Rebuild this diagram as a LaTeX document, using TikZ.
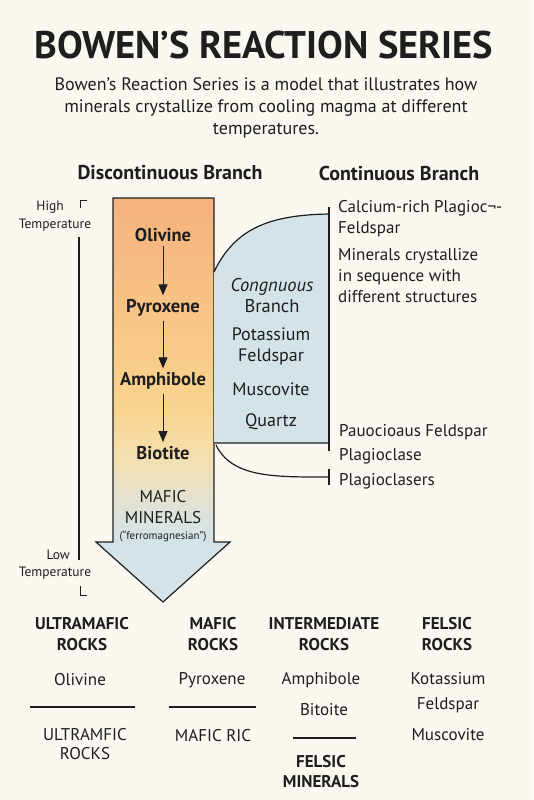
\documentclass[tikz,border=0pt]{standalone}
\usepackage{fontspec}
\setmainfont{PT Sans}
\usepackage{tikz}
\usetikzlibrary{arrows.meta,shapes,positioning,calc}
\usepackage{xcolor}
\definecolor{bwbg}{RGB}{251,248,242}
\definecolor{bwink}{RGB}{30,30,30}
\definecolor{bworange}{RGB}{245,178,124}
\definecolor{bwyellow}{RGB}{249,212,142}
\definecolor{bwpale}{RGB}{244,223,175}
\definecolor{bwgrey}{RGB}{228,226,208}
\definecolor{bwblue}{RGB}{212,227,232}
\pgfdeclareverticalshading{bwarrowshade}{100bp}{color(0bp)=(bwblue); color(33bp)=(bwblue); color(38bp)=(bwgrey); color(43bp)=(bwpale); color(49bp)=(bwyellow); color(75bp)=(bworange); color(100bp)=(bworange)}
\tikzstyle{arrow} = [line width=1pt,-{Triangle[length=11pt,width=9pt]},color=bwink,shorten >=2pt,shorten <=2pt]
\tikzstyle{mineral} = [inner sep=2pt, text=bwink, font=\fontsize{18.5}{20}\selectfont\bfseries]
\tikzstyle{contbox} = [inner sep=1pt, text=bwink, align=center, font=\fontsize{18}{21}\selectfont]
\tikzstyle{sidetext} = [inner sep=0pt, anchor=west, text=bwink, align=left, font=\fontsize{17}{21}\selectfont]
\tikzstyle{rockhead} = [inner sep=0pt, text=bwink, align=center, font=\fontsize{17}{21.5}\selectfont\bfseries]
\tikzstyle{rocktext} = [inner sep=0pt, text=bwink, align=center, font=\fontsize{17}{25}\selectfont]
\tikzstyle{templabel} = [inner sep=0pt, text=bwink, align=right, font=\fontsize{13.5}{18}\selectfont]
\tikzstyle{rule} = [line width=1.2pt, color=bwink]

\begin{document}
\begin{tikzpicture}[x=1pt,y=-1pt]
\useasboundingbox (0,0) rectangle (533,800);
\fill[bwbg] (0,0) rectangle (533,800);

% Title
\node[text=bwink, font=\fontsize{38.5}{40}\selectfont\bfseries] (title) at (264,45) {BOWEN’S REACTION SERIES};
\node[text=bwink, align=center, font=\fontsize{18}{22}\selectfont] (intro) at (266,108)
  {Bowen’s Reaction Series is a model that illustrates how\\ minerals crystallize from cooling magma at different\\ temperatures.};
\node[text=bwink, font=\fontsize{20}{22}\selectfont\bfseries] (disc) at (170,173) {Discontinuous Branch};
\node[text=bwink, font=\fontsize{20}{22}\selectfont\bfseries] (cont) at (399,173) {Continuous Branch};

% Big arrow
\path[draw=bwink, line width=1.2pt, shading=bwarrowshade]
  (113,198) -- (214,198) -- (214,542) -- (230,542) -- (163,602) -- (96,542) -- (113,542) -- cycle;

% Continuous branch
\path[fill=bwblue, draw=bwink, line width=1.2pt]
  (214,272) .. controls (235,228) and (270,215) .. (329,214) -- (329,443) -- (214,443);
\coordinate (ctop) at (329,207);
\coordinate (cbot) at (329,451);
\draw[rule] (ctop) -- (cbot);
\coordinate (lowstart) at (216,445);
\coordinate (lowend) at (329,477);
\draw[rule] (lowstart) .. controls (232,478) and (275,477) .. (lowend);
\draw[rule] ($(lowend)+(0,-8)$) -- ($(lowend)+(0,8)$);

% Minerals
\node[mineral] (olivine) at (163,235) {Olivine};
\node[mineral] (pyroxene) at (163,308) {Pyroxene};
\node[mineral] (amphibole) at (163,381) {Amphibole};
\node[mineral] (biotite) at (163,453) {Biotite};
\node[contbox, font=\fontsize{17}{21}\selectfont] (mafic) at (163,507) {MAFIC\\MINERALS};
\node[inner sep=0pt, text=bwink, font=\fontsize{11}{12}\selectfont] (ferro) at (163,536) {(“ferromagnesian”)};

\draw[arrow] (olivine) -- (pyroxene);
\draw[arrow] (pyroxene) -- (amphibole);
\draw[arrow] (amphibole) -- (biotite);

\node[contbox, font=\fontsize{18.5}{21}\selectfont] (congn) at (272,296) {\itshape Congnuous\\Branch};
\node[contbox] (potass) at (271,346) {Potassium\\Feldspar};
\node[contbox] (musc) at (271,389) {Muscovite};
\node[contbox] (quartz) at (271,422) {Quartz};

% Side notes
\node[sidetext] (calcium) at (338,219) {Calcium-rich Plagioc¬-\\Feldspar};
\node[sidetext] (seq) at (338,276) {Minerals crystallize\\in sequence with\\different structures};
\node[sidetext] (pauoc) at (339,432) {Pauocioaus Feldspar};
\node[sidetext] (plag) at (339,456) {Plagioclase};
\node[sidetext] (plagrs) at (339,481) {Plagioclasers};

% Temperature scale
\node[templabel, anchor=east] (high) at (64,207) {High};
\node[templabel] (hightemp) at (55,225) {Temperature};
\node[templabel, anchor=east] (low) at (70,555) {Low};
\node[templabel] (lowtemp) at (55,573) {Temperature};
\coordinate (ttop) at (79,237);
\coordinate (tbot) at (79,560);
\draw[line width=1.5pt, color=bwink] (ttop) -- (tbot);
\draw[line width=0.8pt, color=bwink] (80,208) -- (80,200) -- (87,200);
\draw[line width=0.8pt, color=bwink] (80,586) -- (80,595) -- (87,595);

% Rock types
\node[rockhead] (ultra) at (82,634) {ULTRAMAFIC\\ROCKS};
\node[rockhead] (maficr) at (213,634) {MAFIC\\ROCKS};
\node[rockhead] (inter) at (324,634) {INTERMEDIATE\\ROCKS};
\node[rockhead] (felsic) at (447,634) {FELSIC\\ROCKS};

\node[rocktext] (r1) at (80,680) {Olivine};
\node[rocktext] (r2) at (212,680) {Pyroxene};
\node[rocktext] (r3) at (321,680) {Amphibole};
\node[rocktext] (r3b) at (324,710) {Bitoite};
\node[rocktext] (r4) at (448,693) {Kotassium\\Feldspar};
\node[rocktext] (r4b) at (448,735) {Muscovite};

\coordinate (l1a) at (30,707);  \coordinate (l1b) at (135,707);
\coordinate (l2a) at (169,707); \coordinate (l2b) at (256,707);
\coordinate (l3a) at (293,738); \coordinate (l3b) at (356,738);
\draw[rule] (l1a) -- (l1b);
\draw[rule] (l2a) -- (l2b);
\draw[rule] (l3a) -- (l3b);

\node[rocktext, font=\fontsize{17}{19.5}\selectfont] (ultrab) at (85,744) {ULTRAMFIC\\ROCKS};
\node[rocktext] (maficb) at (213,736) {MAFIC RIC};
\node[rockhead, font=\fontsize{17}{20}\selectfont\bfseries] (felsicm) at (321,772) {FELSIC\\MINERALS};
\end{tikzpicture}
\end{document}
